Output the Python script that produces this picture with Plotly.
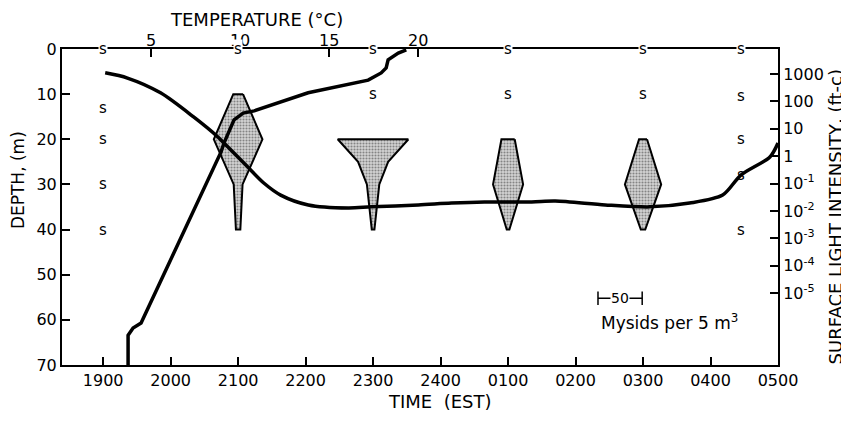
import plotly.graph_objects as go

# ---------------- data ----------------
time_ticks_h = [0, 1, 2, 3, 4, 5, 6, 7, 8, 9, 10]          # hours after 1900 EST
time_labels = ["1900", "2000", "2100", "2200", "2300", "2400",
               "0100", "0200", "0300", "0400", "0500"]
depth_ticks = [0, 10, 20, 30, 40, 50, 60, 70]
temp_ticks = [5, 10, 15, 20]
light_ticks = [1e3, 1e2, 1e1, 1, 1e-1, 1e-2, 1e-3, 1e-4, 1e-5]
light_labels = ["1000", "100", "10", "1", "10<sup>-1</sup>", "10<sup>-2</sup>",
                "10<sup>-3</sup>", "10<sup>-4</sup>", "10<sup>-5</sup>"]

# temperature profile (deg C vs depth m)
temp_c = [3.71, 3.71, 3.99, 4.44, 8.93, 9.10, 9.66, 10.17, 10.79, 13.82,
          17.19, 17.92, 18.20, 18.31, 18.88, 19.33]
temp_depth = [70, 63.4, 61.8, 60.7, 22.8, 20.8, 15.7, 14.2, 13.7, 9.7,
              6.9, 5.3, 4.2, 2.4, 0.9, 0.2]

# surface light intensity (ft-c) vs time
light_time_h = [0.03, 0.36, 0.85, 1.34, 1.70, 1.79, 2.14, 2.38, 2.63, 3.04,
                3.63, 3.97, 4.67, 5.16, 5.65, 6.35, 6.70, 7.44, 8.10, 8.69,
                9.18, 9.45, 9.88, 10.0]
light_log10 = [3.04, 2.85, 2.31, 1.43, 0.70, 0.48, -0.39, -0.98, -1.42, -1.78,
               -1.89, -1.85, -1.78, -1.71, -1.67, -1.67, -1.64, -1.78, -1.85, -1.71,
               -1.42, -0.69, -0.03, 0.48]
light_ftc = [10 ** v for v in light_log10]

# mysid kites (mysids per 5 m^3 at depth)
kite_times_h = [2, 4, 6, 8]
kite_depths = [[10, 20, 30, 40], [20, 25, 30, 40], [20, 30, 40], [20, 30, 40]]
kite_counts = [[11, 55, 10, 5], [80, 34, 14, 3], [15, 34, 3], [9, 41, 5]]

# "s" = sampled (no mysids)
s_times_h = [0, 0, 0, 0, 0, 2, 4, 4, 6, 6, 8, 8, 9.45, 9.45, 9.45, 9.45, 9.45]
s_depths = [0, 13, 20, 30, 40, 0, 0, 10, 0, 10, 0, 10, 0, 10.5, 20, 28, 40]

scale_bar_count = 50

# ---------------- style ----------------
FONT = "DejaVu Sans"
HOURS_PER_MYSID = 0.655 / 50.0
X_RANGE = [-0.61, 10.0]
T_RANGE = [0.0, 40.2]
L_RANGE = [-7.62, 3.91]

fig = go.Figure()

# kites
for t, deps, cnts in zip(kite_times_h, kite_depths, kite_counts):
    xs = [t + c * HOURS_PER_MYSID / 2 for c in cnts] + \
         [t - c * HOURS_PER_MYSID / 2 for c in reversed(cnts)]
    ys = list(deps) + list(reversed(deps))
    xs.append(xs[0]); ys.append(ys[0])
    fig.add_trace(go.Scatter(
        x=xs, y=ys, mode="lines", fill="toself",
        fillcolor="#a8a8a8",
        fillpattern=dict(shape=".", fgcolor="#333333", bgcolor="#d4d4d4",
                         size=3, solidity=0.4),
        line=dict(color="black", width=2), hoverinfo="skip", showlegend=False))

# light curve
fig.add_trace(go.Scatter(
    x=light_time_h, y=light_ftc, xaxis="x", yaxis="y2", mode="lines",
    line=dict(color="black", width=3.5, shape="spline", smoothing=0.8),
    showlegend=False))

# temperature curve
fig.add_trace(go.Scatter(
    x=temp_c, y=temp_depth, xaxis="x2", yaxis="y", mode="lines",
    line=dict(color="black", width=3.5), showlegend=False))

annotations = []
for t, d in zip(s_times_h, s_depths):
    annotations.append(dict(
        x=t, y=d, xref="x", yref="y", text="s", showarrow=False,
        font=dict(family=FONT, size=15, color="black"),
        bgcolor="white" if d == 0 else "rgba(0,0,0,0)", borderpad=0))

# scale bar
sb_center_t, sb_depth = 7.66, 55.2
sb_half = scale_bar_count * HOURS_PER_MYSID / 2
shapes = [
    dict(type="line", xref="x", yref="y", x0=sb_center_t - sb_half, x1=sb_center_t + sb_half,
         y0=sb_depth, y1=sb_depth, line=dict(color="black", width=1.5)),
    dict(type="line", xref="x", yref="y", x0=sb_center_t - sb_half, x1=sb_center_t - sb_half,
         y0=sb_depth - 1.5, y1=sb_depth + 1.5, line=dict(color="black", width=1.5)),
    dict(type="line", xref="x", yref="y", x0=sb_center_t + sb_half, x1=sb_center_t + sb_half,
         y0=sb_depth - 1.5, y1=sb_depth + 1.5, line=dict(color="black", width=1.5)),
]
annotations.append(dict(x=sb_center_t, y=sb_depth, xref="x", yref="y",
                        text=str(scale_bar_count), showarrow=False, bgcolor="white",
                        borderpad=0, font=dict(family=FONT, size=14, color="black")))
annotations.append(dict(x=7.35, y=60.5, xref="x", yref="y", xanchor="left",
                        text="Mysids per 5 m<sup>3</sup>", showarrow=False,
                        font=dict(family=FONT, size=17, color="black")))

# axis titles
title_font = dict(family=FONT, size=18, color="black")
side_font = dict(family=FONT, size=17, color="black")
annotations += [
    dict(x=0.271, y=1.092, xref="paper", yref="paper", text="TEMPERATURE (°C)",
         xanchor="center", yanchor="middle", showarrow=False, font=title_font),
    dict(x=-0.0615, y=0.585, xref="paper", yref="paper", text="DEPTH, (m)", textangle=-90,
         xanchor="center", yanchor="middle", showarrow=False, font=side_font),
    dict(x=0.528, y=-0.117, xref="paper", yref="paper", text="TIME  (EST)",
         xanchor="center", yanchor="middle", showarrow=False, font=title_font),
    dict(x=1.08, y=0.468, xref="paper", yref="paper",
         text="SURFACE LIGHT INTENSITY, (ft-c)", textangle=-90,
         xanchor="center", yanchor="middle", showarrow=False,
         font=dict(family=FONT, size=18, color="black")),
]

axis_common = dict(showgrid=False, zeroline=False, showline=True, linecolor="black",
                   linewidth=2, ticks="inside", ticklen=8, tickwidth=1.5,
                   tickcolor="black", automargin=False,
                   tickfont=dict(family=FONT, size=16, color="black"))

# the page body adds an 8 px offset; figure is sized so the plot area lands at
# x 62..778, y 49..365 in the 849x423 window
fig.update_layout(
    width=841, height=415,
    margin=dict(l=54, r=71, t=41, b=58, autoexpand=False),
    paper_bgcolor="white", plot_bgcolor="white",
    xaxis=dict(range=X_RANGE, tickmode="array", tickvals=time_ticks_h, ticktext=time_labels,
               **axis_common),
    xaxis2=dict(range=T_RANGE, overlaying="x", side="top", tickmode="array",
                tickvals=temp_ticks, ticktext=[str(v) for v in temp_ticks],
                ticklabelstandoff=-5, **axis_common),
    yaxis=dict(range=[70, 0], tickmode="array", tickvals=depth_ticks,
               ticktext=[str(v) for v in depth_ticks], **axis_common),
    yaxis2=dict(type="log", range=L_RANGE, overlaying="y", side="right", tickmode="array",
                tickvals=light_ticks, ticktext=light_labels, **axis_common),
    annotations=annotations, shapes=shapes, showlegend=False,
)

fig.write_html("out.html")
